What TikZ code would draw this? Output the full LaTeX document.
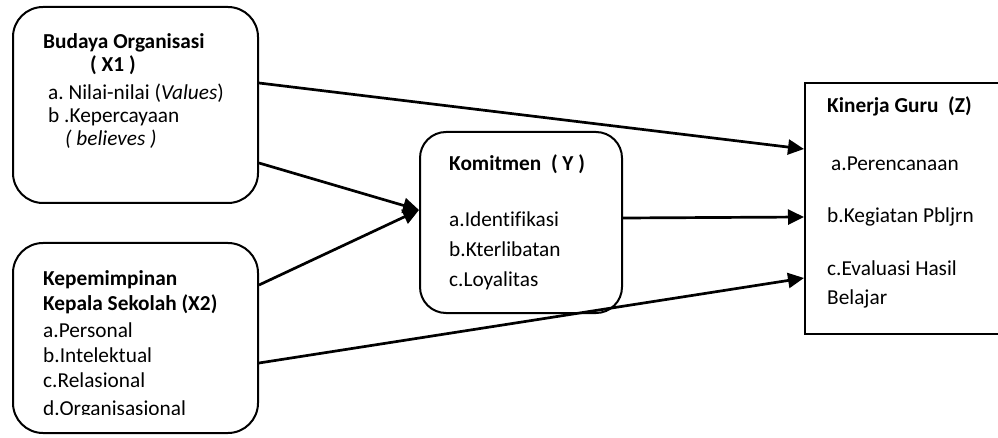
\documentclass[tikz,border=0pt]{standalone}
\usepackage{fontspec}
\setmainfont[Ligatures={NoCommon}]{Carlito}
\usetikzlibrary{arrows.meta}
\frenchspacing
\begin{document}
\begin{tikzpicture}[x=1pt,y=-1pt,
  rbox/.style={draw=black,line width=2pt,rounded corners=30pt,inner sep=0pt},
  sbox/.style={draw=black,line width=2pt,inner sep=0pt},
  lbl/.style={anchor=base west,inner sep=0pt,font=\fontsize{21.3}{25}\selectfont\frenchspacing},
  blbl/.style={lbl,font=\fontsize{21.3}{25}\selectfont\bfseries\frenchspacing},
  conn/.style={line width=2.7pt,-{Triangle[length=16pt,width=15pt]}}]
\useasboundingbox (0,0) rectangle (998,438);
\begin{scope}
\clip (0,0) rectangle (998,438);
% boxes
\node[rbox,minimum width=245pt,minimum height=196pt] (x1) at (135.5,105) {};
\node[rbox,minimum width=245pt,minimum height=190pt] (x2) at (135.5,338) {};
\node[rbox,rounded corners=26pt,minimum width=202pt,minimum height=181pt] (y) at (521,222.5) {};
\node[sbox,minimum width=200pt,minimum height=251pt] (z) at (905,208.5) {};
\end{scope}
% X1 text
\node[blbl] (t1) at (43,49) {Budaya Organisasi};
\node[blbl] (t2) at (90,72) {( X1 )};
\node[lbl] (t3) at (48,100) {a. Nilai-nilai (\textit{Values})};
\node[lbl] (t4) at (48,123) {b .Kepercayaan};
\node[lbl] (t5) at (65,146) {\textit{( believes )}};
% X2 text
\node[blbl] (u1) at (43,285) {Kepemimpinan};
\node[blbl] (u2) at (43,310) {Kepala Sekolah (X2)};
\node[lbl] (u3) at (43,337) {a.Personal};
\node[lbl] (u4) at (43,362) {b.Intelektual};
\node[lbl] (u5) at (43,387) {c.Relasional};
\begin{scope}
\clip (0,0) rectangle (258,414.5);
\node[lbl] (u6) at (43,415.5) {d.Organisasional};
\end{scope}
% Y text
\node[blbl] (v1) at (449,171) {Komitmen\ \ ( Y )};
\node[lbl] (v2) at (449,227) {a.Identifikasi};
\node[lbl] (v3) at (449,257) {b.Kterlibatan};
\node[lbl] (v4) at (449,287) {c.Loyalitas};
% Z text
\node[blbl] (w1) at (827,113) {Kinerja Guru\ \ (Z)};
\node[lbl] (w2) at (831,171) {a.Perencanaan};
\node[lbl] (w3) at (827,223) {b.Kegiatan Pbljrn};
\node[lbl] (w4) at (827,276) {c.Evaluasi Hasil};
\node[lbl] (w5) at (827,305) {Belajar};
% connectors
\draw[conn] ([yshift=22pt]x1.east) -- ([yshift=59.5pt]z.west);
\draw[conn] ([yshift=-58pt]x1.east) -- ([yshift=12.5pt]y.west);
\draw[conn] ([yshift=53pt]x2.east) -- ([yshift=12.5pt]y.west);
\draw[conn] ([yshift=4.5pt]y.east) -- ([yshift=-8.5pt]z.west);
\draw[conn] ([yshift=-25pt]x2.east) -- ([yshift=-69.5pt]z.west);
\end{tikzpicture}
\end{document}
